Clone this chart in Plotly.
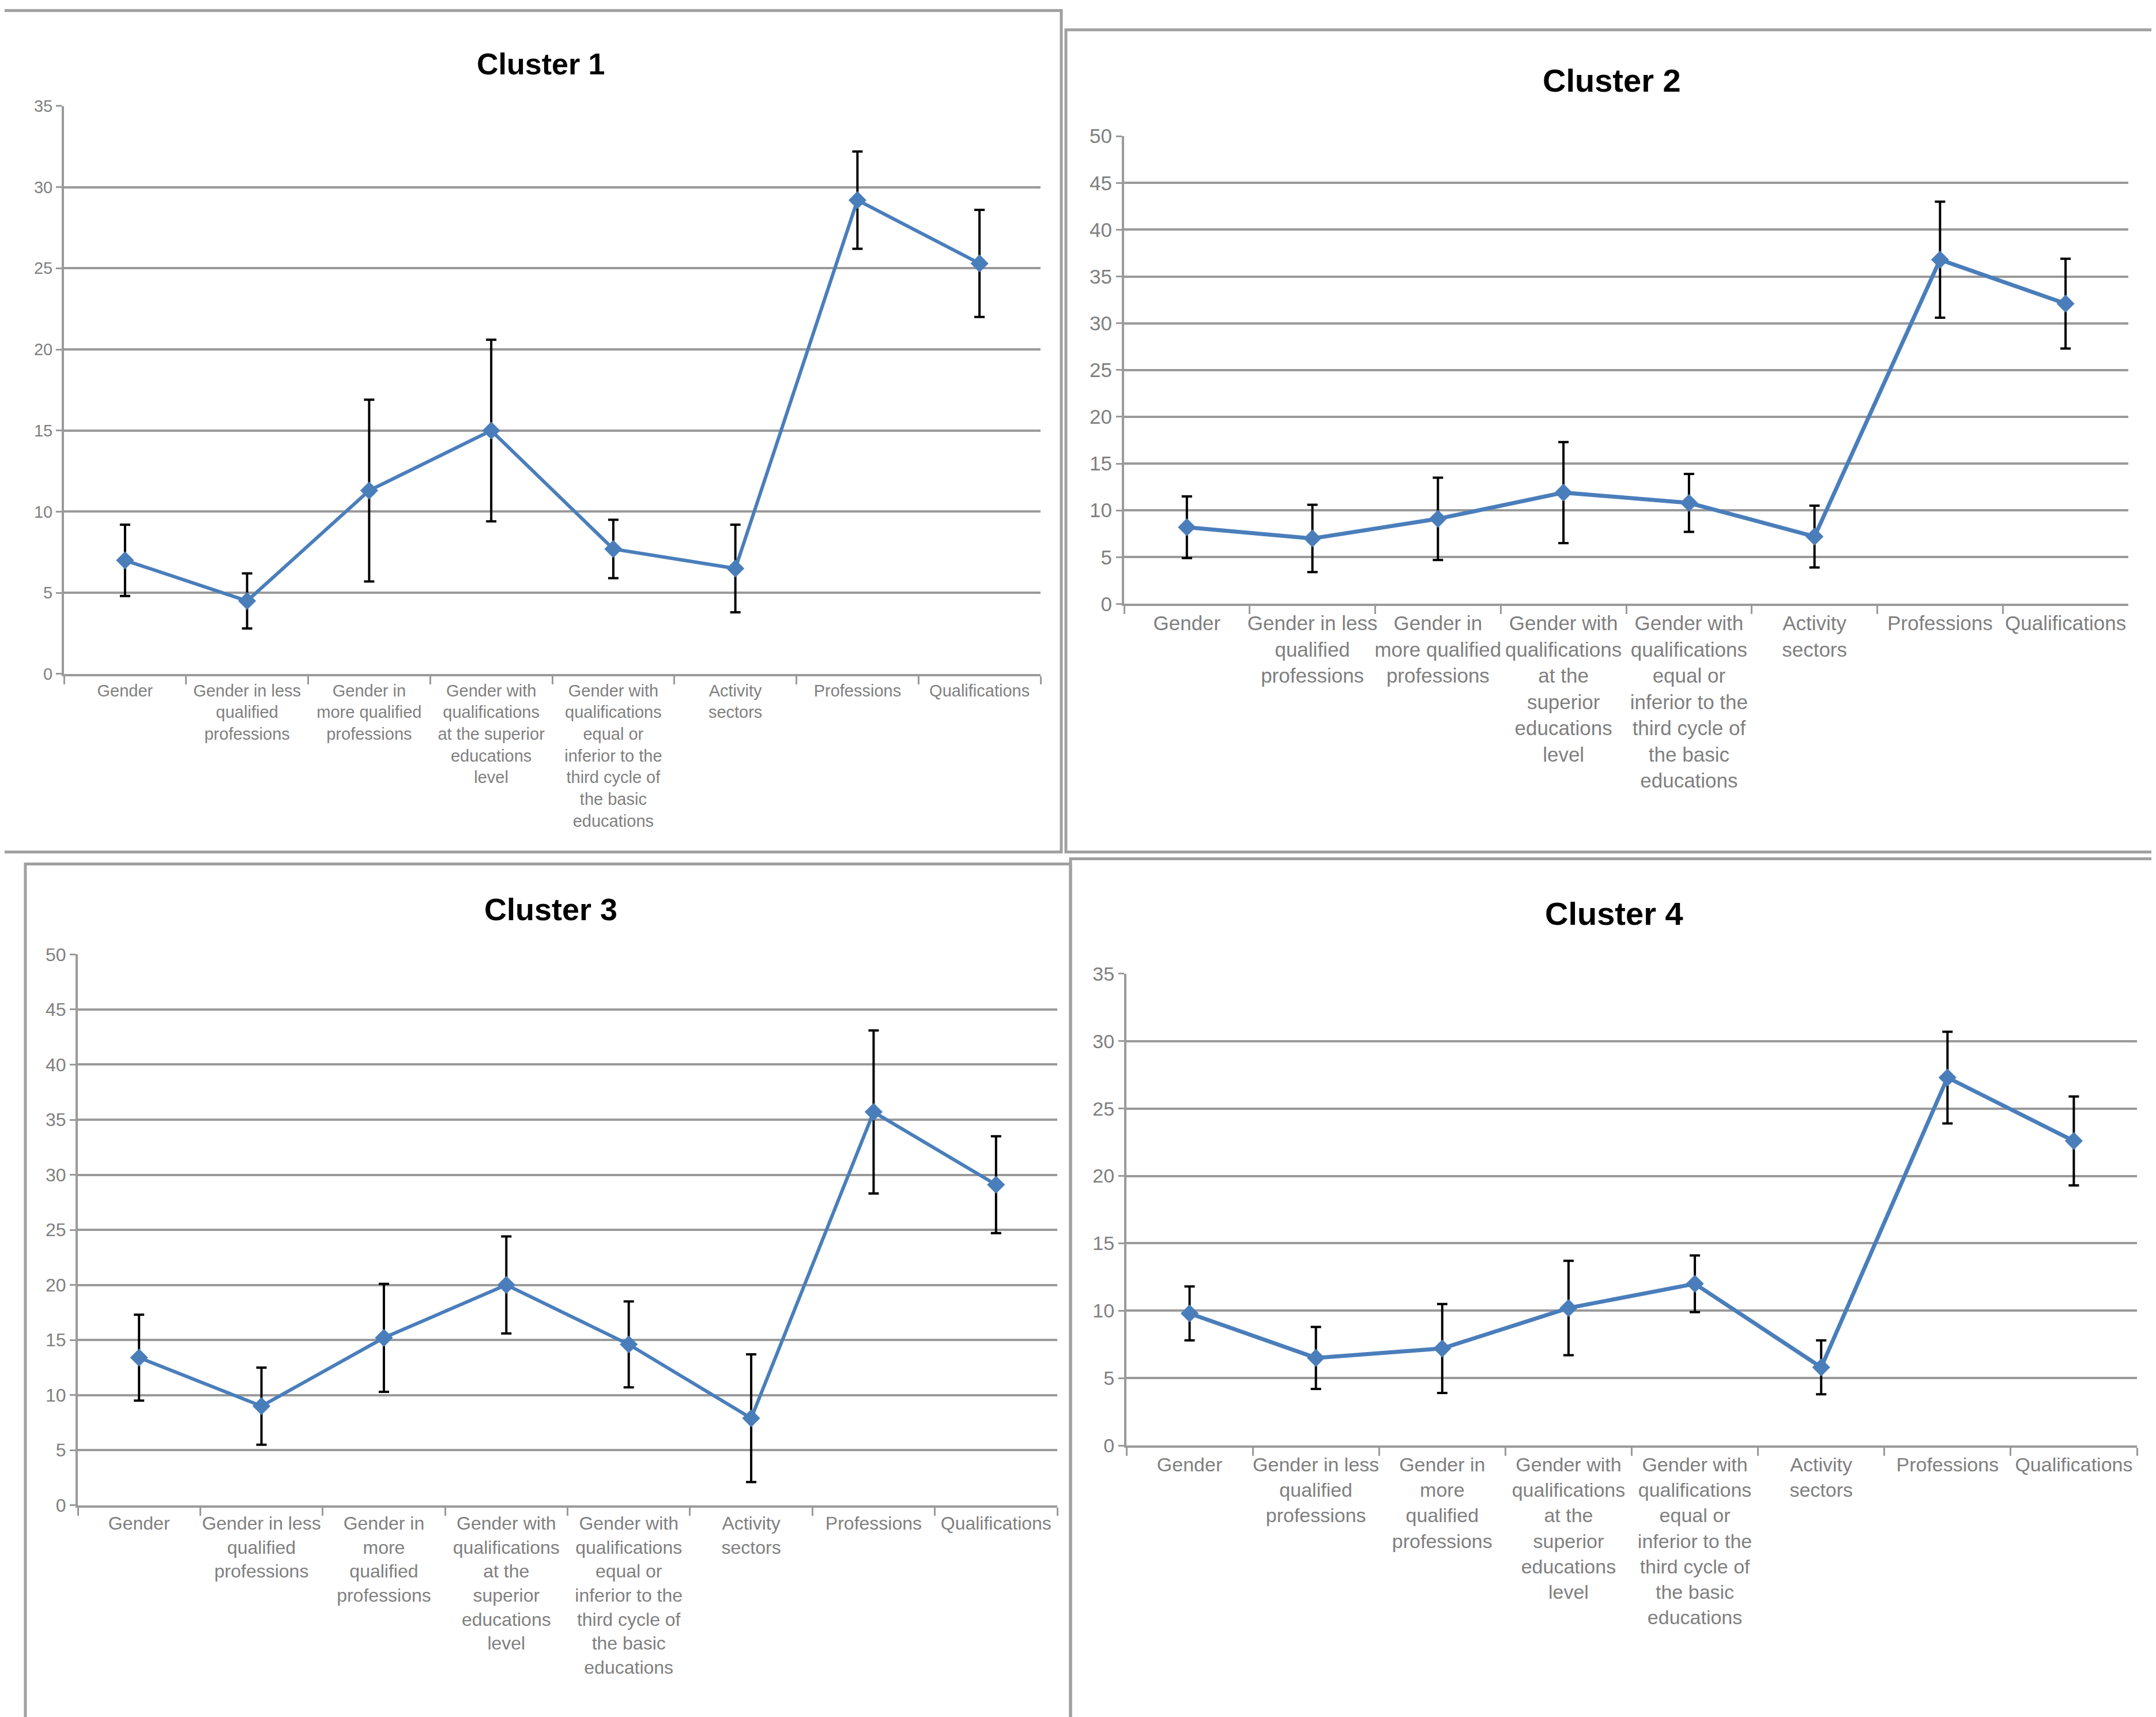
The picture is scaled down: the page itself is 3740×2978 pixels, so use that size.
import plotly.graph_objects as go

categories = ["Gender", "Less qualified", "More qualified", "Superior",
              "Inferior", "Activity", "Professions", "Qualifications"]

labels_c1 = ["Gender", "Gender in less<br>qualified<br>professions",
             "Gender in<br>more qualified<br>professions",
             "Gender with<br>qualifications<br>at the superior<br>educations<br>level",
             "Gender with<br>qualifications<br>equal or<br>inferior to the<br>third cycle of<br>the basic<br>educations",
             "Activity<br>sectors", "Professions", "Qualifications"]
labels_c2 = ["Gender", "Gender in less<br>qualified<br>professions",
             "Gender in<br>more qualified<br>professions",
             "Gender with<br>qualifications<br>at the<br>superior<br>educations<br>level",
             "Gender with<br>qualifications<br>equal or<br>inferior to the<br>third cycle of<br>the basic<br>educations",
             "Activity<br>sectors", "Professions", "Qualifications"]
labels_c34 = ["Gender", "Gender in less<br>qualified<br>professions",
              "Gender in<br>more<br>qualified<br>professions",
              "Gender with<br>qualifications<br>at the<br>superior<br>educations<br>level",
              "Gender with<br>qualifications<br>equal or<br>inferior to the<br>third cycle of<br>the basic<br>educations",
              "Activity<br>sectors", "Professions", "Qualifications"]

c1_mean = [7.0, 4.5, 11.3, 15.0, 7.7, 6.5, 29.2, 25.3]
c1_err = [2.2, 1.7, 5.6, 5.6, 1.8, 2.7, 3.0, 3.3]
c2_mean = [8.2, 7.0, 9.1, 11.9, 10.8, 7.2, 36.8, 32.1]
c2_err = [3.3, 3.6, 4.4, 5.4, 3.1, 3.3, 6.2, 4.8]
c3_mean = [13.4, 9.0, 15.2, 20.0, 14.6, 7.9, 35.7, 29.1]
c3_err = [3.9, 3.5, 4.9, 4.4, 3.9, 5.8, 7.4, 4.4]
c4_mean = [9.8, 6.5, 7.2, 10.2, 12.0, 5.8, 27.3, 22.6]
c4_err = [2.0, 2.3, 3.3, 3.5, 2.1, 2.0, 3.4, 3.3]

W, H = 3740, 2978
FONT = "Liberation Sans Narrow, Liberation Sans, Arial"
BLUE = "#4a7ebb"
GRID = "#9a9a9a"

# name, means, errors, labels, ymax, x px, y px, tick font, title font, title pos, line width
panels = [
    ("Cluster 1", c1_mean, c1_err, labels_c1, 35, (103, 1797), (158, 1156), 29, 52, (930, 84), 6),
    ("Cluster 2", c2_mean, c2_err, labels_c2, 50, (1942, 3684), (211, 1033), 35, 56, (2788, 113), 7),
    ("Cluster 3", c3_mean, c3_err, labels_c34, 50, (127, 1826), (1649, 2617), 32, 54, (947, 1570), 6),
    ("Cluster 4", c4_mean, c4_err, labels_c34, 35, (1946, 3699), (1683, 2512), 34, 56, (2792, 1577), 7),
]

fig = go.Figure()
annotations = []
for i, (title, mean, err, labels, ymax, xd, yd, fs, tfs, tpos, lw) in enumerate(panels):
    n = "" if i == 0 else str(i + 1)
    fig.add_trace(go.Scatter(
        x=categories, y=mean, xaxis="x" + n, yaxis="y" + n,
        mode="lines+markers",
        line=dict(color=BLUE, width=lw),
        marker=dict(symbol="diamond", size=24, color=BLUE),
        error_y=dict(type="data", array=err, color="black", thickness=4, width=9),
        showlegend=False
    ))
    fig.layout["xaxis" + n] = dict(
        domain=[xd[0] / W, xd[1] / W], anchor="y" + n, type="category",
        tickmode="array", tickvals=categories, ticktext=labels,
        tickson="boundaries", ticks="outside", ticklen=14, tickwidth=3, tickcolor=GRID,
        showline=True, linecolor=GRID, linewidth=4, showgrid=False, zeroline=False,
        tickangle=0, tickfont=dict(family=FONT, size=fs, color="#7f7f7f"),
        range=[-0.5, 7.5]
    )
    fig.layout["yaxis" + n] = dict(
        domain=[1 - yd[1] / H, 1 - yd[0] / H], anchor="x" + n,
        range=[0, ymax], dtick=5, ticks="outside", ticklen=10, tickwidth=3, tickcolor=GRID,
        showline=True, linecolor=GRID, linewidth=4,
        showgrid=True, gridcolor=GRID, gridwidth=4, zeroline=False,
        tickfont=dict(family=FONT, size=fs, color="#7f7f7f")
    )
    annotations.append(dict(
        x=tpos[0] / W, y=1 - tpos[1] / H, xref="paper", yref="paper",
        xanchor="center", yanchor="middle",
        text="<b>" + title + "</b>", showarrow=False,
        font=dict(family=FONT, size=tfs, color="black")
    ))

# panel frames
frames = [(-10, -10, 1833, 1469), (1841, 24, 3727, 1469),
          (36, 1490, 1849, 3000), (1849, 1481, 3735, 3000)]
shapes = []
for x0, y0, x1, y1 in frames:
    shapes.append(dict(type="rect", xref="paper", yref="paper",
                       x0=x0 / W, x1=x1 / W, y0=1 - y1 / H, y1=1 - y0 / H,
                       line=dict(color="#a0a0a0", width=5)))

fig.update_layout(
    width=W, height=H,
    margin=dict(l=0, r=0, t=0, b=0),
    paper_bgcolor="white", plot_bgcolor="white",
    annotations=annotations, shapes=shapes
)

fig.write_html("out.html")
